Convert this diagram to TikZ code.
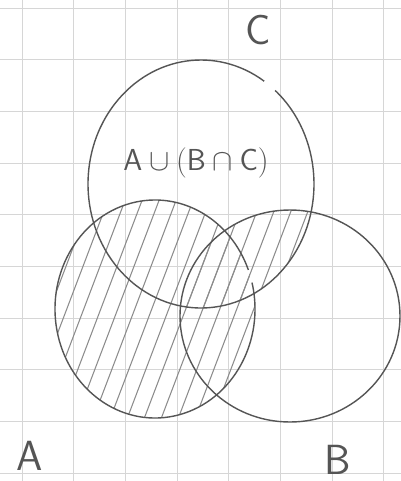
\documentclass[tikz,border=0pt]{standalone}
\usepackage{amsmath,amssymb}
\usepackage{tikz}
\usepackage{xcolor}
\usetikzlibrary{positioning}
\definecolor{paper}{HTML}{FFFFFF}
\definecolor{gridgray}{HTML}{D6D6D6}
\definecolor{pencil}{HTML}{555555}
\definecolor{hatchgray}{HTML}{8C8C8C}
\tikzset{
  gridline/.style={draw=gridgray, line width=0.5pt},
  setline/.style={draw=pencil, line width=0.8pt},
  hatchline/.style={draw=hatchgray, line width=0.6pt},
  setlabel/.style={text=pencil, inner sep=0pt,
    font=\sffamily\fontsize{24}{28}\selectfont},
  exprlabel/.style={text=pencil, inner sep=0pt,
    font=\sffamily\fontsize{17}{20}\selectfont}
}

\begin{document}
\begin{tikzpicture}[x=0.02cm,y=-0.02cm]
  \useasboundingbox (0,0) rectangle (401,481);
  \fill[paper] (0,0) rectangle (401,481);
  % grid paper
  \foreach \i in {0,...,7}
    \draw[gridline] ({22+51.7*\i},0) -- ({22+51.7*\i},481);
  \foreach \i in {0,...,9}
    \draw[gridline] (0,{8+51.7*\i}) -- (401,{8+51.7*\i});
  % hatching: A
  \begin{scope}
    \clip (155,309) ellipse [x radius=100, y radius=109];
    \foreach \k in {-6,...,26}
      \draw[hatchline] ({\k*17},440) -- ++(95,-250);
  \end{scope}
  % hatching: B n C
  \begin{scope}
    \clip (290,316) ellipse [x radius=110, y radius=106];
    \clip (201,184) ellipse [x radius=113, y radius=124];
    \foreach \k in {-6,...,26}
      \draw[hatchline] ({\k*17},440) -- ++(95,-250);
  \end{scope}
  % the three sets
  \draw[setline] (201,184) ++(-49:113 and 124)
    arc[start angle=-49, end angle=304, x radius=113, y radius=124];
  \draw[setline] (155,309) ++(-14:100 and 109)
    arc[start angle=-14, end angle=339, x radius=100, y radius=109];
  \draw[setline] (290,316) ellipse [x radius=110, y radius=106];
  % labels
  \node[setlabel] (labC) at (258,30) {C};
  \node[setlabel] (labA) at (30,456) {A};
  \node[setlabel] (labB) at (338,460) {B};
  \node[exprlabel] (expr) at (196,163)
    {$\mathsf{A}\cup(\mathsf{B}\cap\mathsf{C})$};
\end{tikzpicture}
\end{document}
